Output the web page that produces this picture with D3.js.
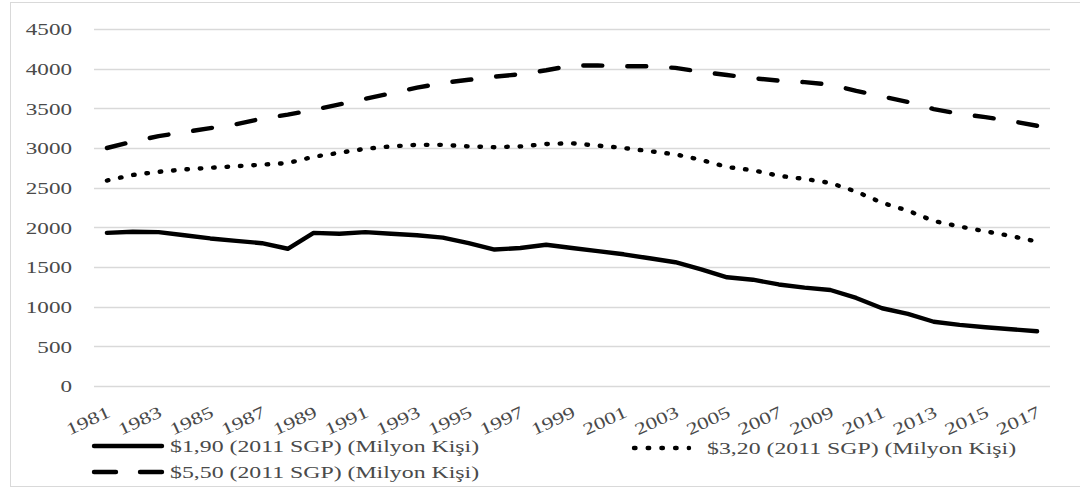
<!DOCTYPE html>
<html>
<head>
<meta charset="utf-8">
<script src="https://cdn.jsdelivr.net/npm/d3@7"></script>
<style>
  body { margin: 0; background: #fff; }
  svg { display: block; }
  svg text { font-family: "Liberation Serif", "Times New Roman", serif; }
</style>
</head>
<body>
<div id="chart"></div>
<script>
const years = d3.range(1981, 2018).map(String);
const tickYears = years.filter((d, i) => i % 2 === 0);
const yTicks = [0, 500, 1000, 1500, 2000, 2500, 3000, 3500, 4000, 4500];

const seriesNames = [
    "$1,90 (2011 SGP) (Milyon Kişi)",
    "$3,20 (2011 SGP) (Milyon Kişi)",
    "$5,50 (2011 SGP) (Milyon Kişi)"
];

const poor190 = [1930, 1945, 1940, 1900, 1860, 1830, 1800, 1730, 1930, 1920,
                 1940, 1920, 1900, 1870, 1800, 1720, 1740, 1780, 1740, 1700,
                 1660, 1610, 1560, 1470, 1370, 1340, 1280, 1240, 1210, 1110,
                 980, 910, 810, 770, 740, 715, 690];
const poor320 = [2590, 2660, 2700, 2730, 2750, 2770, 2790, 2810, 2890, 2940,
                 2990, 3020, 3040, 3040, 3020, 3010, 3020, 3050, 3060, 3030,
                 3000, 2960, 2920, 2850, 2760, 2720, 2650, 2610, 2560, 2450,
                 2310, 2210, 2080, 2010, 1950, 1890, 1820];
const poor550 = [3000, 3080, 3150, 3200, 3250, 3300, 3370, 3420, 3480, 3550,
                 3620, 3690, 3760, 3820, 3860, 3900, 3930, 3980, 4040, 4040,
                 4030, 4030, 4010, 3960, 3920, 3880, 3850, 3830, 3800, 3720,
                 3650, 3580, 3490, 3430, 3390, 3340, 3280];

const W = 1080, H = 490;
const plotLeft = 94, plotRight = 1050, plotTop = 29, plotBottom = 386;
const textColor = "#4a4a4a";
const stretch = 1.36;

const svg = d3.select("#chart").append("svg")
    .attr("width", W)
    .attr("height", H);

// outer frame
svg.append("rect")
    .attr("x", 10.5).attr("y", 2.5)
    .attr("width", W).attr("height", 484)
    .attr("fill", "none")
    .attr("stroke", "#d9d9d9");

const x = d3.scalePoint()
    .domain(years)
    .range([plotLeft, plotRight])
    .padding(0.5);

const y = d3.scaleLinear()
    .domain([0, 4500])
    .range([plotBottom, plotTop]);

// gridlines
svg.append("g")
    .selectAll("line")
    .data(yTicks)
    .enter()
    .append("line")
    .attr("x1", plotLeft).attr("x2", plotRight)
    .attr("y1", d => Math.round(y(d)) + 0.5)
    .attr("y2", d => Math.round(y(d)) + 0.5)
    .attr("stroke", "#d9d9d9")
    .attr("stroke-width", 1.5);

// y axis labels
const yAxis = svg.append("g")
    .attr("transform", `translate(${plotLeft},0)`)
    .call(d3.axisLeft(y).tickValues(yTicks).tickFormat(d3.format("d"))
        .tickSize(0).tickPadding(0));
yAxis.attr("font-family", null);
yAxis.select(".domain").remove();
yAxis.selectAll(".tick text")
    .attr("x", null)
    .attr("dy", "0.34em")
    .attr("transform", `translate(-22,0) scale(${stretch},1)`)
    .attr("fill", textColor)
    .style("font-size", "17px");

// x axis labels
const xAxis = svg.append("g")
    .attr("transform", `translate(0,${plotBottom})`)
    .call(d3.axisBottom(x).tickValues(tickYears).tickSize(0).tickPadding(0));
xAxis.attr("font-family", null);
xAxis.select(".domain").remove();
xAxis.selectAll(".tick text")
    .attr("y", null)
    .attr("dy", null)
    .attr("text-anchor", "end")
    .attr("transform", `translate(4,30) rotate(-25) scale(${stretch},1)`)
    .attr("fill", textColor)
    .style("font-size", "17px");

const styles = [
    { dash: null, data: poor190 },
    { dash: "1.5,11.9", data: poor320 },
    { dash: "19,25", data: poor550 }
];

const line = d3.line()
    .x((d, i) => x(years[i]))
    .y(d => y(d));

svg.append("g")
    .selectAll("path")
    .data(styles)
    .enter()
    .append("path")
    .attr("d", d => line(d.data))
    .attr("fill", "none")
    .attr("stroke", "#000")
    .attr("stroke-width", 4.4)
    .attr("stroke-linecap", "round")
    .attr("stroke-linejoin", "round")
    .attr("stroke-dasharray", d => d.dash);

// legend
const legendPos = [
    { x: 94, y: 446, dash: null, len: 68 },
    { x: 634, y: 448, dash: "1.5,12.2", len: 55 },
    { x: 94, y: 472, dash: "22,24", len: 68 }
];

const legend = svg.append("g")
    .selectAll("g")
    .data(seriesNames)
    .enter()
    .append("g")
    .attr("transform", (d, i) => `translate(${legendPos[i].x},${legendPos[i].y})`);

legend.append("line")
    .attr("x1", 0)
    .attr("x2", (d, i) => legendPos[i].len)
    .attr("stroke", "#000")
    .attr("stroke-width", 4.4)
    .attr("stroke-linecap", "round")
    .attr("stroke-dasharray", (d, i) => legendPos[i].dash);

legend.append("text")
    .attr("transform", (d, i) => `translate(${i === 1 ? 73 : 76},6) scale(1.4,1)`)
    .attr("fill", textColor)
    .style("font-size", "17px")
    .text(d => d);
</script>
</body>
</html>
